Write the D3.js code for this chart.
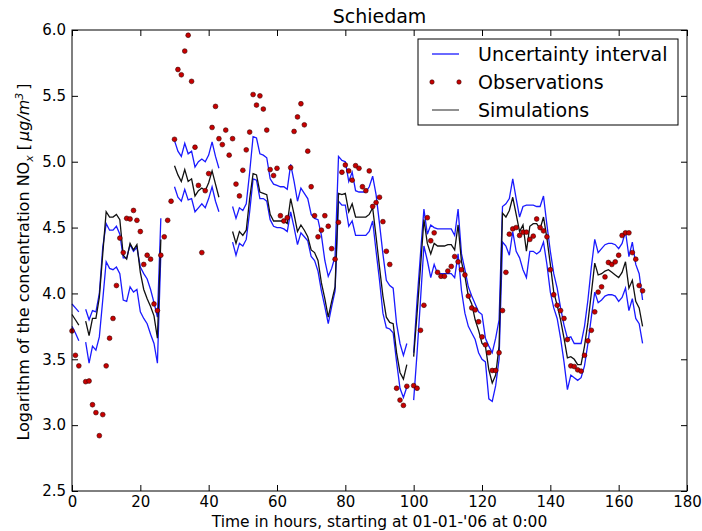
<!DOCTYPE html>
<html>
<head>
<meta charset="utf-8">
<script src="https://cdn.jsdelivr.net/npm/d3@7"></script>
<style>
    body { margin: 0; background: #fff; }
    text { font-family: "DejaVu Sans", sans-serif; }
</style>
</head>
<body>
<svg id="chart" width="702" height="531"></svg>
<script>
// values per hour (index = hour after 01-01-'06 0:00), null = no value
const upper = [
    3.92, 3.89, 3.86, null, 3.88, 3.80, 3.87, 3.86, 4.00, 4.35,
    4.53, 4.48, 4.48, 4.51, 4.45, 4.27, 4.27, 4.37, 4.32, 4.35,
    4.20, 4.15, 4.11, 4.03, 3.93, 3.82, 4.57, null, null, null,
    5.16, 5.08, 5.04, 5.14, 5.06, 5.08, 4.96, 5.00, 5.02, 5.00,
    5.05, 5.15, 5.04, 4.95, null, null, null, 4.66, 4.57, 4.65,
    4.63, 4.68, 4.92, 5.19, 5.18, 5.06, 5.05, 5.03, 4.87, 4.83,
    4.82, 4.81, 4.81, 4.79, 4.98, 4.85, 4.70, 4.80, 4.76, 4.72,
    4.60, 4.57, 4.56, 4.44, 4.25, 4.13, 4.19, 4.28, 5.04, 5.01,
    5.00, 4.85, 4.92, 4.78, 4.77, 4.77, 4.77, 4.81, 4.89, 4.75,
    4.53, 4.30, 4.10, 4.06, 4.04, 3.77, 3.62, 3.53, 3.62, null,
    3.55, 3.95, 4.30, 4.64, 4.45, 4.52, 4.50, 4.49, 4.49, 4.49,
    4.49, 4.49, 4.44, 4.64, 4.30, 4.18, 4.05, 3.98, 3.92, 3.86,
    3.84, 3.66, 3.60, 3.55, 3.66, 3.80, 4.66, 4.68, 4.72, 4.87,
    4.72, 4.58, 4.66, 4.67, 4.67, 4.67, 4.66, 4.66, 4.74, 4.52,
    4.32, 4.15, 4.04, 3.89, 3.76, 3.66, 3.67, 3.62, 3.62, 3.62,
    3.75, 3.95, 4.20, 4.41, 4.31, 4.34, 4.37, 4.38, 4.38, 4.37,
    4.34, 4.38, 4.47, 4.28, 4.39, 4.22, 4.15, 3.95
];

const simulations = [
    3.84, 3.80, 3.76, null, 3.79, 3.68, 3.81, 3.81, 3.97, 4.30,
    4.62, 4.58, 4.58, 4.60, 4.56, 4.29, 4.26, 4.38, 4.33, 4.37,
    4.16, 4.03, 3.96, 3.90, 3.83, 3.66, 4.41, null, null, null,
    4.97, 4.90, 4.85, 4.94, 4.85, 4.87, 4.74, 4.78, 4.80, 4.78,
    4.84, 4.93, 4.83, 4.73, null, null, null, 4.47, 4.38, 4.47,
    4.44, 4.48, 4.72, 4.91, 4.90, 4.77, 4.76, 4.75, 4.60, 4.55,
    4.55, 4.55, 4.55, 4.53, 4.72, 4.60, 4.47, 4.52, 4.48, 4.43,
    4.33, 4.31, 4.25, 4.08, 3.96, 3.82, 3.94, 4.05, 4.76, 4.75,
    4.76, 4.62, 4.68, 4.58, 4.58, 4.58, 4.58, 4.60, 4.65, 4.43,
    4.20, 3.98, 3.82, 3.78, 3.77, 3.55, 3.40, 3.35, 3.46, null,
    3.52, 3.85, 4.20, 4.56, 4.38, 4.30, 4.38, 4.36, 4.36, 4.36,
    4.37, 4.37, 4.33, 4.52, 4.24, 4.13, 3.98, 3.92, 3.80, 3.72,
    3.62, 3.60, 3.42, 3.32, 3.38, 3.60, 4.61, 4.58, 4.63, 4.73,
    4.60, 4.47, 4.52, 4.32, 4.51, 4.53, 4.53, 4.49, 4.58, 4.42,
    4.22, 4.01, 3.91, 3.80, 3.66, 3.51, 3.52, 3.50, 3.46, 3.46,
    3.60, 3.78, 4.00, 4.23, 4.14, 4.15, 4.17, 4.18, 4.16, 4.14,
    4.12, 4.16, 4.24, 4.04, 4.10, 3.94, 3.89, 3.75
];

const lower = [
    3.75, 3.70, 3.64, null, 3.63, 3.47, 3.60, 3.57, 3.67, 3.95,
    4.24, 4.19, 4.18, 4.20, 4.15, 3.95, 3.94, 4.05, 4.01, 4.03,
    3.86, 3.81, 3.77, 3.69, 3.62, 3.47, 4.30, null, null, null,
    4.81, 4.73, 4.70, 4.79, 4.71, 4.72, 4.62, 4.65, 4.68, 4.65,
    4.72, 4.81, 4.70, 4.62, null, null, null, 4.39, 4.29, 4.38,
    4.36, 4.41, 4.62, 4.87, 4.86, 4.72, 4.72, 4.70, 4.56, 4.51,
    4.50, 4.50, 4.49, 4.47, 4.62, 4.50, 4.37, 4.46, 4.43, 4.40,
    4.28, 4.25, 4.17, 4.02, 3.90, 3.77, 3.90, 4.02, 4.70, 4.67,
    4.67, 4.51, 4.55, 4.44, 4.44, 4.44, 4.44, 4.47, 4.55, 4.32,
    4.10, 3.85, 3.74, 3.73, 3.70, 3.48, 3.28, 3.21, 3.29, null,
    3.19, 3.55, 3.95, 4.36, 4.25, 4.12, 4.22, 4.15, 4.15, 4.15,
    4.15, 4.15, 4.12, 4.30, 4.02, 3.85, 3.75, 3.70, 3.65, 3.55,
    3.50, 3.48, 3.20, 3.18, 3.30, 3.50, 4.39, 4.36, 4.29, 4.47,
    4.32, 4.27, 4.18, 4.12, 4.32, 4.32, 4.30, 4.32, 4.39, 4.22,
    4.01, 3.89, 3.81, 3.66, 3.48, 3.27, 3.38, 3.36, 3.34, 3.36,
    3.45, 3.62, 3.82, 4.01, 3.93, 3.95, 3.98, 3.99, 3.99, 3.98,
    3.94, 3.97, 4.04, 3.87, 3.96, 3.81, 3.77, 3.62
];

const observations = [
    3.715, 3.53, 3.45, null, 3.33, 3.335, 3.155, 3.095, 2.92, 3.08,
    3.45, 3.66, 3.81, 4.06, 4.42, 4.31, 4.57, 4.565, 4.63, 4.555,
    4.47, 4.22, 4.29, 4.26, 3.92, 3.87, 4.29, 4.43, 4.555, 4.70,
    5.17, 5.70, 5.66, 5.84, 5.96, 5.61, 5.11, 4.82, 4.31, 4.78,
    4.91, 5.26, 5.42, 5.175, 5.13, 5.24, 5.05, 5.175, 4.83, 4.74,
    4.935, 5.09, 5.225, 5.51, 5.43, 5.50, 5.40, 5.24, 4.94, 4.895,
    4.95, 4.59, 4.55, 4.575, 4.955, 5.23, 5.34, 5.44, 5.28, 5.08,
    4.81, 4.59, 4.43, 4.48, 4.59, 4.51, 4.34, 4.26, 4.54, 4.92,
    4.975, 4.93, 4.86, 4.97, 4.95, 4.81, 4.78, 4.93, 4.66, 4.69,
    4.73, 4.545, 4.32, 4.22, null, 3.28, 3.19, 3.15, 3.295, null,
    3.30, 3.28, 3.72, 3.91, 4.575, 4.40, 4.46, 4.16, 4.13, 4.13,
    4.17, 4.205, 4.28, 4.24, 4.18, 4.14, 3.98, 3.89, 3.875, 3.785,
    3.67, 3.61, 3.55, 3.415, 3.415, 3.55, 3.87, 4.16, 4.45, 4.49,
    4.50, 4.44, 4.465, 4.465, 4.41, 4.435, 4.565, 4.50, 4.475, 4.43,
    4.18, 3.99, 3.91, 3.87, 3.81, 3.65, 3.45, 3.445, 3.42, 3.41,
    3.53, 3.64, 3.72, 3.86, 4.01, 4.05, 4.125, 4.235, 4.22, 4.24,
    4.29, 4.44, 4.46, 4.46, 4.31, 4.26, 4.06, 4.02
];

const xTicks = [0, 20, 40, 60, 80, 100, 120, 140, 160, 180];
const yTicks = [2.5, 3.0, 3.5, 4.0, 4.5, 5.0, 5.5, 6.0];
const legendLabels = ["Uncertainty interval", "Observations", "Simulations"];

const width = 702;
const height = 531;
const margin = { top: 30, right: 15, bottom: 40, left: 72 };

const svg = d3.select("#chart");

const xScale = d3.scaleLinear()
    .domain([0, 180])
    .range([margin.left, width - margin.right]);

const yScale = d3.scaleLinear()
    .domain([2.5, 6.0])
    .range([height - margin.bottom, margin.top]);

// data lines
const line = d3.line()
    .defined(function (d) { return d != null; })
    .x(function (d, i) { return xScale(i); })
    .y(function (d) { return yScale(d); });

[upper, lower].forEach(function (series) {
    svg.append("path")
        .datum(series)
        .attr("fill", "none")
        .attr("stroke", "#1a1aff")
        .attr("stroke-width", 1.3)
        .attr("d", line);
});

svg.append("path")
    .datum(simulations)
    .attr("fill", "none")
    .attr("stroke", "#111")
    .attr("stroke-width", 1.3)
    .attr("d", line);

const obsPoints = observations
    .map(function (v, i) { return { hour: i, value: v }; })
    .filter(function (d) { return d.value != null; });

svg.append("g")
    .selectAll("circle")
    .data(obsPoints)
    .join("circle")
    .attr("cx", function (d) { return xScale(d.hour); })
    .attr("cy", function (d) { return yScale(d.value); })
    .attr("r", 2.4)
    .attr("fill", "#c80000")
    .attr("stroke", "#3a0000")
    .attr("stroke-width", 0.6);

// axes, ticks pointing inward on every side
const plotBottom = height - margin.bottom;
const plotRight = width - margin.right;

svg.append("g")
    .attr("class", "axis")
    .attr("transform", `translate(0, ${plotBottom})`)
    .call(d3.axisBottom(xScale).tickValues(xTicks).tickSizeInner(-6).tickSizeOuter(0).tickPadding(5));

svg.append("g")
    .attr("class", "axis")
    .attr("transform", `translate(0, ${margin.top})`)
    .call(d3.axisTop(xScale).tickValues(xTicks).tickSizeInner(-6).tickSizeOuter(0).tickFormat(""));

svg.append("g")
    .attr("class", "axis")
    .attr("transform", `translate(${margin.left}, 0)`)
    .call(d3.axisLeft(yScale).tickValues(yTicks).tickSizeInner(-6).tickSizeOuter(0).tickPadding(6)
        .tickFormat(d3.format(".1f")));

svg.append("g")
    .attr("class", "axis")
    .attr("transform", `translate(${plotRight}, 0)`)
    .call(d3.axisRight(yScale).tickValues(yTicks).tickSizeInner(-6).tickSizeOuter(0).tickFormat(""));

svg.selectAll(".axis .domain").remove();
svg.selectAll(".axis text")
    .attr("font-size", 15)
    .attr("font-family", "DejaVu Sans")
    .attr("fill", "#000");
svg.selectAll(".axis line").attr("stroke", "#000");

svg.append("rect")
    .attr("x", margin.left)
    .attr("y", margin.top)
    .attr("width", plotRight - margin.left)
    .attr("height", plotBottom - margin.top)
    .attr("fill", "none")
    .attr("stroke", "#000")
    .attr("stroke-width", 1);

// title and axis labels
svg.append("text")
    .attr("x", (margin.left + plotRight) / 2)
    .attr("y", 23)
    .attr("text-anchor", "middle")
    .attr("font-size", 19)
    .text("Schiedam");

svg.append("text")
    .attr("x", (margin.left + plotRight) / 2)
    .attr("y", 527)
    .attr("text-anchor", "middle")
    .attr("font-size", 15.5)
    .text("Time in hours, starting at 01-01-'06 at 0:00");

const yLabel = svg.append("text")
    .attr("transform", "translate(29, 262) rotate(-90)")
    .attr("text-anchor", "middle")
    .attr("font-size", 16);
yLabel.append("tspan").text("Logarithm of the concentration NO");
yLabel.append("tspan").attr("font-style", "italic").attr("font-size", 11).attr("dy", 4).text("x");
yLabel.append("tspan").attr("dy", -4).text(" [");
yLabel.append("tspan").attr("font-style", "italic").attr("dx", 3).text("μg/m");
yLabel.append("tspan").attr("font-style", "italic").attr("font-size", 11).attr("dy", -6).text("3");
yLabel.append("tspan").attr("dy", 6).attr("dx", 3).text("]");

// legend
const legend = svg.append("g");
legend.append("rect")
    .attr("x", 418)
    .attr("y", 39)
    .attr("width", 260)
    .attr("height", 86)
    .attr("fill", "#fff")
    .attr("stroke", "#000")
    .attr("stroke-width", 1);

const rowY = [54, 82, 110];
legend.append("line")
    .attr("x1", 432).attr("x2", 459)
    .attr("y1", rowY[0]).attr("y2", rowY[0])
    .attr("stroke", "#1a1aff").attr("stroke-width", 1.3);
legend.selectAll("circle")
    .data([432, 459])
    .join("circle")
    .attr("cx", function (d) { return d; })
    .attr("cy", rowY[1])
    .attr("r", 2.2)
    .attr("fill", "#c80000")
    .attr("stroke", "#3a0000")
    .attr("stroke-width", 0.6);
legend.append("line")
    .attr("x1", 432).attr("x2", 459)
    .attr("y1", rowY[2]).attr("y2", rowY[2])
    .attr("stroke", "#555").attr("stroke-width", 1.3);

legend.selectAll("text")
    .data(legendLabels)
    .join("text")
    .attr("x", 478)
    .attr("y", function (d, i) { return rowY[i]; })
    .attr("dy", "0.35em")
    .attr("font-size", 19)
    .text(function (d) { return d; });
</script>
</body>
</html>
